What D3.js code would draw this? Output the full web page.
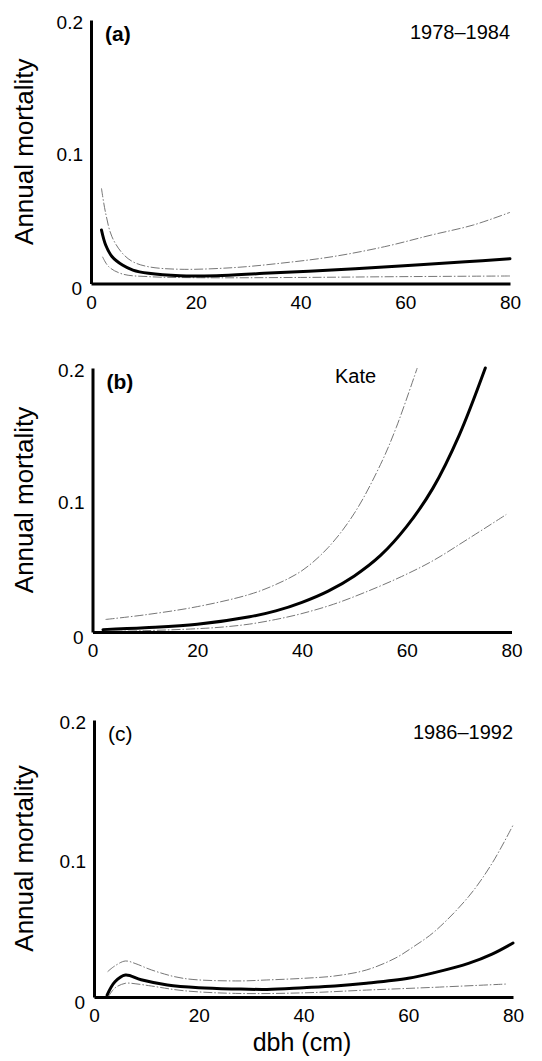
<!DOCTYPE html>
<html>
<head>
<meta charset="utf-8">
<script src="https://cdn.jsdelivr.net/npm/d3@7"></script>
<style>
  body { margin: 0; background: #fff; }
  svg { display: block; }
  text { font-family: "Liberation Sans", Arial, Helvetica, sans-serif; fill: #000; }
</style>
</head>
<body>
<svg id="chart"></svg>
<script>
// ---- data (dbh in cm, annual mortality) ----
const yTicks = [0, 0.1, 0.2];
const xTicks = [0, 20, 40, 60, 80];
const panelLabels = ["(a)", "(b)", "(c)"];
const panelNotes = ["1978\u20131984", "Kate", "1986\u20131992"];

// (a) 1978-1984
const dbhMeanA = [2, 2.8, 4, 6, 8, 11, 17, 24, 33, 46, 59, 71.5, 80];
const meanA = [0.0406, 0.0292, 0.0205, 0.014, 0.0102, 0.0077, 0.0058, 0.0059, 0.0077, 0.0102, 0.0133, 0.0165, 0.0188];
const dbhUpperA = [2, 2.8, 4, 6, 8, 11, 17, 27, 36, 46, 56, 65, 73, 80];
const upperA = [0.0722, 0.0533, 0.0355, 0.0229, 0.0165, 0.0127, 0.0108, 0.012, 0.0153, 0.0203, 0.0279, 0.0368, 0.0444, 0.054];
const dbhLowerA = [2.2, 3.4, 6, 11, 20, 40, 59, 80];
const lowerA = [0.0203, 0.0127, 0.0072, 0.0052, 0.0044, 0.0046, 0.0052, 0.0057];

// (b) Kate
const dbhMeanB = [2, 10, 20, 30, 35, 40, 45, 50, 55, 60, 65, 70, 75];
const meanB = [0.0018, 0.0032, 0.0058, 0.0115, 0.016, 0.0225, 0.031, 0.0425, 0.058, 0.08, 0.109, 0.149, 0.2];
const dbhUpperB = [2.5, 10, 20, 30, 35, 40, 45, 50, 55, 58, 62];
const upperB = [0.0095, 0.013, 0.0192, 0.0285, 0.036, 0.0465, 0.064, 0.09, 0.127, 0.155, 0.2];
const dbhLowerB = [4, 10, 20, 25, 30, 35, 40, 46, 52, 59, 65, 71.5, 79];
const lowerB = [0.0005, 0.001, 0.0025, 0.0038, 0.006, 0.0095, 0.014, 0.021, 0.03, 0.042, 0.054, 0.07, 0.089];

// (c) 1986-1992
const dbhMeanC = [2.5, 4, 6, 9, 14, 20, 27, 33, 40, 46, 52, 60, 65, 71.5, 76, 80];
const meanC = [0.0014, 0.011, 0.0159, 0.0125, 0.0087, 0.0067, 0.0058, 0.0055, 0.0067, 0.0079, 0.0099, 0.0135, 0.0176, 0.0243, 0.031, 0.039];
const dbhUpperC = [2.6, 4, 6, 8, 11, 17, 27, 33, 40, 46, 52, 57.5, 61, 65, 71.5, 76, 80];
const upperC = [0.0183, 0.0225, 0.026, 0.024, 0.0195, 0.0135, 0.0116, 0.0123, 0.0135, 0.0152, 0.0195, 0.028, 0.0363, 0.0472, 0.0724, 0.0965, 0.124];
const dbhLowerC = [2.7, 4, 6, 8, 11, 17, 27, 40, 52, 65, 79];
const lowerC = [0.0, 0.0065, 0.0099, 0.0095, 0.0079, 0.0046, 0.0026, 0.003, 0.005, 0.007, 0.0094];

const panels = [
  {mean: [dbhMeanA, meanA], upper: [dbhUpperA, upperA], lower: [dbhLowerA, lowerA]},
  {mean: [dbhMeanB, meanB], upper: [dbhUpperB, upperB], lower: [dbhLowerB, lowerB]},
  {mean: [dbhMeanC, meanC], upper: [dbhUpperC, upperC], lower: [dbhLowerC, lowerC]}
];

// ---- layout ----
const width = 542, height = 1061;
const frames = [
  {left: 91, top: 20, bottom: 283.5, boldLabel: true},
  {left: 92.5, top: 368, bottom: 632, boldLabel: true},
  {left: 94, top: 720, bottom: 997, boldLabel: false}
];
const plotWidth = 419;

const svg = d3.select("#chart")
    .attr("width", width)
    .attr("height", height);

svg.append("rect")
    .attr("width", width)
    .attr("height", height)
    .attr("fill", "#fff");

const toPoints = ([xs, ys]) => xs.map((d, i) => [d, ys[i]]);

panels.forEach((p, i) => {
  const f = frames[i];

  const x = d3.scaleLinear().domain([0, 80]).range([f.left, f.left + plotWidth]);
  const y = d3.scaleLinear().domain([0, 0.2]).range([f.bottom, f.top]);

  const g = svg.append("g");

  const line = d3.line()
      .x(d => x(d[0]))
      .y(d => y(d[1]))
      .curve(d3.curveCatmullRom.alpha(0.5));

  // confidence bands, thin grey
  [p.upper, p.lower].forEach(s => {
    g.append("path")
        .datum(toPoints(s))
        .attr("d", line)
        .attr("fill", "none")
        .attr("stroke", "#666")
        .attr("stroke-width", 0.9)
        .attr("stroke-dasharray", "9 2 1.5 2");
  });

  // fitted curve
  g.append("path")
      .datum(toPoints(p.mean))
      .attr("d", line)
      .attr("fill", "none")
      .attr("stroke", "#000")
      .attr("stroke-width", 3)
      .attr("stroke-linecap", "round");

  // axes
  const xAxis = d3.axisBottom(x)
      .tickValues(xTicks)
      .tickSize(0)
      .tickPadding(12)
      .tickFormat(d3.format("d"));

  const yAxis = d3.axisLeft(y)
      .tickValues(yTicks)
      .tickSize(0)
      .tickPadding(8)
      .tickFormat(d => d === 0 ? "0" : d3.format(".1f")(d));

  const xg = g.append("g")
      .attr("transform", `translate(0,${f.bottom})`)
      .call(xAxis);
  xg.select(".domain").attr("stroke", "#000").attr("stroke-width", 2.8);
  xg.selectAll("text").attr("font-size", 19).attr("font-family", null);

  const yg = g.append("g")
      .attr("transform", `translate(${f.left},0)`)
      .call(yAxis);
  yg.select(".domain").attr("stroke", "#000").attr("stroke-width", 3);
  yg.selectAll("text")
      .attr("font-size", 19)
      .attr("font-family", null)
      .attr("dy", d => d === 0 ? "0.6em" : "0.45em")
      .attr("x", d => d === 0 ? -9 : -8);

  // y label
  g.append("text")
      .attr("transform", `translate(33,${(f.top + f.bottom) / 2}) rotate(-90)`)
      .attr("text-anchor", "middle")
      .attr("font-size", 26)
      .text("Annual mortality");

  // panel letter
  g.append("text")
      .attr("x", f.left + 14)
      .attr("y", f.top + 21)
      .attr("font-size", 21)
      .attr("font-weight", f.boldLabel ? "bold" : "normal")
      .text(panelLabels[i]);

  // period / site note
  const note = g.append("text")
      .attr("font-size", 20)
      .text(panelNotes[i]);
  if (i === 1) {
    note.attr("x", 335).attr("y", f.top + 15);
  } else {
    note.attr("x", f.left + plotWidth).attr("y", f.top + 19).attr("text-anchor", "end");
  }
});

// x label
svg.append("text")
    .attr("x", 302)
    .attr("y", 1051)
    .attr("text-anchor", "middle")
    .attr("font-size", 25)
    .text("dbh (cm)");
</script>
</body>
</html>
